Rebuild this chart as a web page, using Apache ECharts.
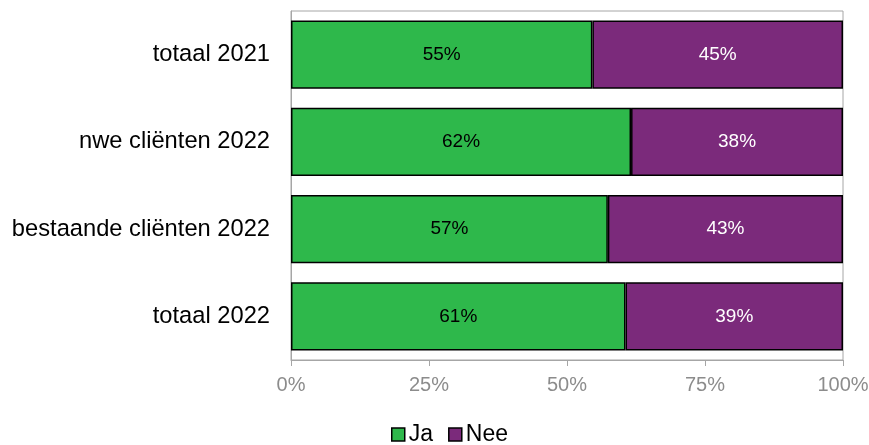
<!DOCTYPE html>
<html><head><meta charset="utf-8">
<script src="https://cdn.jsdelivr.net/npm/echarts@6/dist/echarts.min.js"></script>
<style>html,body{margin:0;padding:0;background:#fff}#c{width:869px;height:445px}</style>
</head><body><div id="c"></div>
<script>
const categories = ['totaal 2022', 'bestaande cliënten 2022', 'nwe cliënten 2022', 'totaal 2021'];
const ja = [60.6, 57.4, 61.6, 54.6];
const nee = [39.4, 42.6, 38.4, 45.4];
const xTicks = ['0%', '25%', '50%', '75%', '100%'];

const chart = echarts.init(document.getElementById('c'));
const font = 'Liberation Sans, Arial, sans-serif';
chart.setOption({
  animation: false,
  grid: { left: 291, right: 26, top: 11, bottom: 85, show: true, borderColor: '#a6a6a6', borderWidth: 1,
    containLabel: false, outerBoundsMode: 'none' },
  xAxis: {
    type: 'value', min: 0, max: 100, interval: 25,
    axisLine: { show: true, lineStyle: { color: '#a6a6a6' } },
    axisTick: { show: true, length: 6, lineStyle: { color: '#a6a6a6' } },
    splitLine: { show: false },
    axisLabel: { color: '#8c8c8c', fontFamily: font, fontSize: 20, margin: 15,
      formatter: v => xTicks[Math.round(v / 25)] }
  },
  yAxis: {
    type: 'category', data: categories,
    axisLine: { show: true, lineStyle: { color: '#a6a6a6' } },
    axisTick: { show: false },
    axisLabel: { color: '#000', fontFamily: font, fontSize: 23.7, margin: 21 }
  },
  legend: {
    top: 423, left: 391, padding: 0, itemWidth: 13, itemHeight: 13, itemGap: 15,
    icon: 'rect',
    itemStyle: { borderColor: '#000', borderWidth: 1.5 },
    textStyle: { fontFamily: font, fontSize: 23, color: '#000', padding: [0, 0, 0, -1] },
    data: ['Ja', 'Nee']
  },
  series: [
    { name: 'Ja', type: 'bar', stack: 't', data: ja, barCategoryGap: '22%',
      itemStyle: { color: '#2eb84b', borderColor: '#000', borderWidth: 1.5 },
      label: { show: true, position: 'inside', color: '#000', fontFamily: font, fontSize: 19,
        formatter: p => Math.round(p.value) + '%' } },
    { name: 'Nee', type: 'bar', stack: 't', data: nee,
      itemStyle: { color: '#7b2a7b', borderColor: '#000', borderWidth: 1.5 },
      label: { show: true, position: 'inside', color: '#fff', fontFamily: font, fontSize: 19,
        formatter: p => Math.round(p.value) + '%' } }
  ]
});
</script></body></html>
